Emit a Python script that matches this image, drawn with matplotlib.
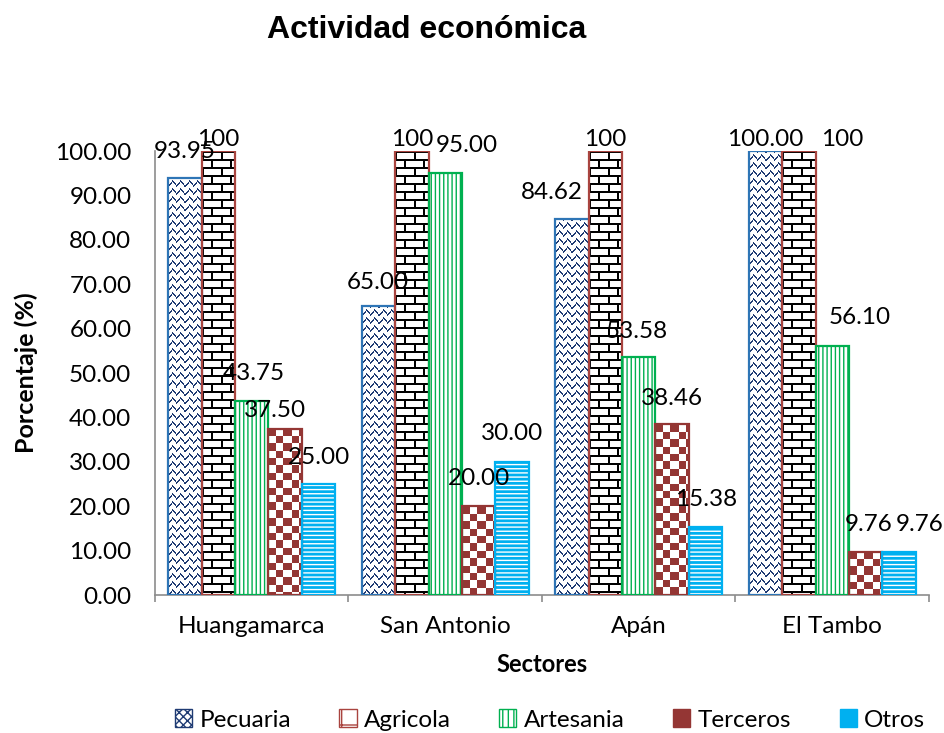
import numpy as np
import matplotlib
matplotlib.use("Agg")
from matplotlib import pyplot as plt
from matplotlib.patches import Patch

# data
sectores = ["Huangamarca", "San Antonio", "Apán", "El Tambo"]
pecuaria = [93.95, 65.00, 84.62, 100.00]
agricola = [100, 100, 100, 100]
artesania = [43.75, 95.00, 53.58, 56.10]
terceros = [37.50, 20.00, 38.46, 9.76]
otros = [25.00, 30.00, 15.38, 9.76]
series_names = ["Pecuaria", "Agricola", "Artesania", "Terceros", "Otros"]
label_fmt = ["{:.2f}", "{:.0f}", "{:.2f}", "{:.2f}", "{:.2f}"]

# label nudges in pixels (dx, dy above bar top), as placed in the original
label_dx = [[0, 0, -20, 0], [0, 0, 0, 43], [2, 22, -2, 27], [-10, 0, 0, 3], [0, 0, 0, 20]]
label_dy = [[26, 24, 27, 12], [12, 12, 12, 12], [27, 28, 26, 28], [18, 28, 26, 27], [27, 28, 27, 27]]

BODY = "Lato"
FS = 17.5

plt.rcParams["font.family"] = [BODY, "DejaVu Sans"]

fig = plt.figure(figsize=(9.45, 7.33), dpi=100)
ax = fig.add_axes([155 / 945, 1 - 595 / 733, 774 / 945, 444 / 733])
ax.set_xlim(-0.5, 3.5)
ax.set_ylim(0, 100)

x = np.arange(len(sectores))
w = 0.1731
values = [pecuaria, agricola, artesania, terceros, otros]
edges = ["#2E75B6", "#A9443F", "#00B050", "#943634", "#00B0F0"]


def pecuaria_pat(ii, jj):
    a = (jj + ii) % 8
    b = (jj - ii) % 8
    band = (jj // 4) % 2
    return ((band == 0) & (a < 2)) | ((band == 1) & (b < 2)), "#1F3B73", "white"


def brick_pat(ii, jj):
    row = ii // 8
    r = ii % 8
    return (r < 2) | (((jj + (row % 2) * 9) % 18) < 2), "black", "white"


def checker_pat(ii, jj):
    return ((np.floor(ii / 7.4) + np.floor(jj / 7.4)) % 2 == 0), "#943634", "white"


def fill_bar(bar, pattern):
    x0, y0 = bar.get_x(), bar.get_y()
    bw, bh = bar.get_width(), bar.get_height()
    p0 = ax.transData.transform((x0, y0))
    p1 = ax.transData.transform((x0 + bw, y0 + bh))
    nx = max(int(round(p1[0] - p0[0])), 1)
    ny = max(int(round(p1[1] - p0[1])), 1)
    jj, ii = np.meshgrid(np.arange(nx), np.arange(ny))
    mask, fg, bg = pattern(ii, jj)
    fg = np.array(matplotlib.colors.to_rgb(fg))
    bg = np.array(matplotlib.colors.to_rgb(bg))
    img = np.where(mask[..., None], fg, bg)
    ax.imshow(img, extent=(x0, x0 + bw, y0, y0 + bh), origin="upper",
              interpolation="nearest", aspect="auto", zorder=2)


patterns = {0: pecuaria_pat, 1: brick_pat, 3: checker_pat}

for s, vals in enumerate(values):
    pos = x + (s - 2) * w
    if s in patterns:
        bars = ax.bar(pos, vals, w, fill=False, edgecolor=edges[s], linewidth=1.6, zorder=3)
        for b in bars:
            fill_bar(b, patterns[s])
    elif s == 2:
        ax.bar(pos, vals, w, facecolor="white", edgecolor="#00B050", hatch="||||", linewidth=0, zorder=2)
        bars = ax.bar(pos, vals, w, fill=False, edgecolor=edges[s], linewidth=1.6, zorder=3)
    else:
        ax.bar(pos, vals, w, facecolor="#00B0F0", edgecolor="white", hatch="----", linewidth=0, zorder=2)
        bars = ax.bar(pos, vals, w, fill=False, edgecolor=edges[s], linewidth=1.6, zorder=3)
    for i, b in enumerate(bars):
        ax.annotate(label_fmt[s].format(vals[i]), (b.get_x() + b.get_width() / 2, vals[i]),
                    xytext=(label_dx[s][i], label_dy[s][i]), textcoords="offset pixels",
                    ha="center", va="center", fontsize=FS, zorder=5, annotation_clip=False)

ax.set_xlim(-0.5, 3.5)
ax.set_ylim(0, 100)

for sp in ["top", "right"]:
    ax.spines[sp].set_visible(False)
for sp in ["left", "bottom"]:
    ax.spines[sp].set_color("#8C8C8C")
    ax.spines[sp].set_linewidth(1.2)

ax.set_yticks(np.arange(0, 101, 10))
ax.set_yticklabels([f"{v:.2f}" for v in np.arange(0, 101, 10)])
ax.set_xticks(x)
ax.set_xticklabels(sectores)
ax.set_xticks(np.arange(-0.5, 3.6, 1), minor=True)
ax.tick_params(axis="y", length=0, pad=17, labelsize=FS)
ax.tick_params(axis="x", which="major", length=0, pad=15, labelsize=FS)
ax.tick_params(axis="x", which="minor", length=5, color="#8C8C8C", width=1.2)

ax.set_ylabel("Porcentaje (%)", fontsize=18, fontweight="bold", labelpad=12)
ax.set_xlabel("Sectores", fontsize=17, fontweight="bold", labelpad=12)

fig.text(427 / 945, 1 - 30 / 733, "Actividad económica", ha="center", va="center",
         fontsize=23, fontweight="bold", family="Liberation Sans")

handles = [
    Patch(facecolor="white", edgecolor="#1F3B73", hatch="xxxx", linewidth=1),
    Patch(facecolor="white", edgecolor="#A9443F", hatch="+", linewidth=1),
    Patch(facecolor="white", edgecolor="#00B050", hatch="|||", linewidth=1),
    Patch(facecolor="#943634", edgecolor="#943634", linewidth=1),
    Patch(facecolor="#00B0F0", edgecolor="#00B0F0", linewidth=1),
]
fig.legend(handles, series_names, loc="center", bbox_to_anchor=(550 / 945, 1 - 720 / 733),
           ncol=5, frameon=False, fontsize=FS, handlelength=0.7, handleheight=0.7,
           handletextpad=0.3, columnspacing=2.0, borderaxespad=0)

fig.savefig("out.png", dpi=100)
